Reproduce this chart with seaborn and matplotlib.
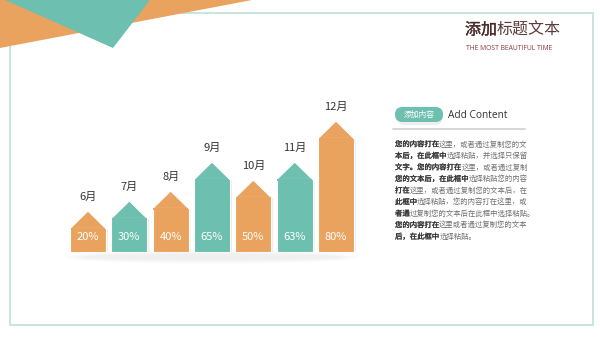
import matplotlib
matplotlib.use("Agg")
import matplotlib.pyplot as plt
import matplotlib.patheffects as pe
from matplotlib.patches import Polygon, Rectangle, FancyBboxPatch, Ellipse
import seaborn as sns
import pandas as pd

# ---- data ----
months = ["6月", "7月", "8月", "9月", "10月", "11月", "12月"]
percent_labels = ["20%", "30%", "40%", "65%", "50%", "63%", "80%"]
bar_heights = [24, 34, 44, 73, 55, 73, 114]   # body height (visual units)
bar_colors = ["#E9A35F", "#6DBFAF", "#E9A35F", "#6DBFAF", "#E9A35F", "#6DBFAF", "#E9A35F"]

title_bold = "添加"
title_rest = "标题文本"
subtitle = "THE MOST BEAUTIFUL TIME"
tag_text = "添加内容"
heading = "Add Content"
paragraph = [
    [("您的内容打在", True), ("这里，或者通过复制您的文", False)],
    [("本后，在此框中", True), ("选择粘贴，并选择只保留", False)],
    [("文字。您的内容打在", True), ("这里，或者通过复制", False)],
    [("您的文本后，在此框中", True), ("选择粘贴您的内容", False)],
    [("打在", True), ("这里，或者通过复制您的文本后，在", False)],
    [("此框中", True), ("选择粘贴，您的内容打在这里，或", False)],
    [("者通", True), ("过复制您的文本后在此框中选择粘贴。", False)],
    [("您的内容打在", True), ("这里或者通过复制您的文本", False)],
    [("后，在此框中", True), ("选择粘贴。", False)],
]

sns.set_theme(style="white")
plt.rcParams["font.family"] = ["Noto Sans CJK SC", "DejaVu Sans"]

W, H = 600, 338
fig = plt.figure(figsize=(W / 100, H / 100), dpi=100)
fig.patch.set_facecolor("white")

# background / decoration axes in pixel coords
bg = fig.add_axes([0, 0, 1, 1])
bg.set_xlim(0, W)
bg.set_ylim(H, 0)
bg.axis("off")

teal = "#6DBFAF"
orange = "#E9A35F"

bg.add_patch(Rectangle((10, 13), 583, 312, fill=False, edgecolor="#C4E3DD", lw=1.3, zorder=1))
bg.add_patch(Polygon([(0, 0), (252, 0), (0, 48)], closed=True, facecolor=orange, edgecolor="none", zorder=2))
bg.add_patch(Polygon([(5, 0), (113, 48), (150, 0)], closed=True, facecolor=teal, edgecolor="none", zorder=3))

# title block
tfs = 11.5
tem = tfs * 100 / 72
bg.text(465, 30, title_bold, fontsize=tfs, color="#4A2C2C", va="center", ha="left", zorder=5,
        path_effects=[pe.withStroke(linewidth=0.25, foreground="#4A2C2C")])
bg.text(465 + len(title_bold) * tem, 30, title_rest, fontsize=tfs, color="#5B3B3B", va="center", ha="left", zorder=5)
bg.text(466, 48, subtitle, fontsize=4.9, color="#8B3A3A", va="center", ha="left", family="Open Sans", zorder=5)

# bar ground shadow
for i, (w, a) in enumerate([(300, 0.02), (285, 0.03), (270, 0.03), (255, 0.035)]):
    bg.add_patch(Ellipse((212, 257), w, 14 - i * 2.5, facecolor="#888888", edgecolor="none", alpha=a, zorder=1))

# right panel
pill_shadow = FancyBboxPatch((397, 110), 46, 15, boxstyle="round,pad=0,rounding_size=7.5",
                             facecolor="#999999", edgecolor="none", alpha=0.15, zorder=4)
bg.add_patch(pill_shadow)
pill = FancyBboxPatch((395, 107), 48, 15, boxstyle="round,pad=0,rounding_size=7.5",
                      facecolor=teal, edgecolor="none", zorder=5)
bg.add_patch(pill)
bg.text(419, 114.5, tag_text, fontsize=5.6, color="white", ha="center", va="center", zorder=6)
bg.text(448, 115, heading, fontsize=7.3, color="#333333", ha="left", va="center", family="Open Sans", zorder=6)
bg.plot([393, 525], [129, 129], color="#D0D0D0", lw=1.2, zorder=4)

fs = 5.3
em = fs * 100 / 72
y0 = 144.5
for li, segs in enumerate(paragraph):
    x = 395
    for txt, bold in segs:
        kw = {}
        if bold:
            kw["path_effects"] = [pe.withStroke(linewidth=0.2, foreground="#333333")]
        bg.text(x, y0 + li * 11.55, txt, fontsize=fs, ha="left", va="center",
                color="#333333" if bold else "#707070", zorder=6, **kw)
        x += len(txt) * em

# ---- chart axes: 1 y-unit == 1 pixel ----
left_px, right_px = 67.3, 356.7
base_px, top_px = 252, 112
ax = fig.add_axes([left_px / W, (H - base_px) / H, (right_px - left_px) / W, (base_px - top_px) / H])
ax.patch.set_alpha(0)
ax.set_zorder(bg.get_zorder() + 1)

df = pd.DataFrame({"month": months, "height": bar_heights})
sns.barplot(data=df, x="month", y="height", hue="month", palette=bar_colors, legend=False,
            width=0.864, ax=ax, edgecolor="white", linewidth=0.8, saturation=1)
ax.set_xlim(-0.5, len(months) - 0.5)
ax.set_ylim(0, base_px - top_px)
ax.axis("off")

roof = 17
for i, p in enumerate(list(ax.patches)):
    x0, w, h = p.get_x(), p.get_width(), p.get_height()
    c = p.get_facecolor()
    # soft shadow
    ax.add_patch(Polygon([(x0 + 0.05, 0), (x0 + w + 0.05, 0), (x0 + w + 0.05, h - 2), (x0 + w / 2 + 0.05, h + roof - 2),
                          (x0 + 0.05, h - 2)], closed=True, facecolor="#777777", alpha=0.12,
                         edgecolor="none", zorder=0.5))
    ax.add_patch(Polygon([(x0, h - 0.5), (x0 + w / 2, h + roof), (x0 + w, h - 0.5)], closed=True,
                         facecolor=c, edgecolor="white", lw=0.8, zorder=p.get_zorder()))
    ax.add_patch(Rectangle((x0 + 0.01, h - 1.5), w - 0.02, 2, facecolor=c, edgecolor="none", zorder=p.get_zorder() + 0.1))
    ax.text(x0 + w / 2, 15.3, percent_labels[i], color="white", fontsize=8, ha="center", va="center", zorder=5)
    ax.text(x0 + w / 2, h + roof + 14, months[i], color="#333333", fontsize=8, ha="center", va="center", zorder=5)

fig.savefig("out.png", dpi=100, facecolor="white")
